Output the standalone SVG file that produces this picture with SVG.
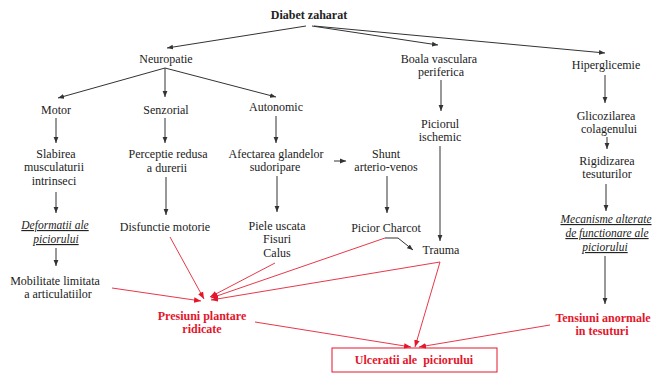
<svg xmlns="http://www.w3.org/2000/svg" width="659" height="378" viewBox="0 0 659 378" font-family="'Liberation Serif', 'Times New Roman', serif">
  <style>
    text { font-family: 'Liberation Serif', 'Times New Roman', serif; font-size: 12px; fill: #222; text-anchor: middle; }
    .title { font-weight: bold; }
    .ital { font-style: italic; text-decoration: underline; font-size: 11.5px; }
    .red { fill: #e3162c; font-weight: bold; }
    .edge { stroke: #333; stroke-width: 1; fill: none; marker-end: url(#arrow); }
    .redge { stroke: #e8384a; stroke-width: 1; fill: none; marker-end: url(#rarrow); }
    .box { fill: none; stroke: #e3162c; stroke-width: 1; }
  </style>
  <defs>
    <marker id="arrow" viewBox="0 0 10 10" refX="10" refY="5" markerWidth="6" markerHeight="6" orient="auto" markerUnits="userSpaceOnUse">
      <path d="M0,1 L10,5 L0,9 z" fill="#333"/>
    </marker>
    <marker id="rarrow" viewBox="0 0 10 10" refX="10" refY="5" markerWidth="7" markerHeight="7" orient="auto" markerUnits="userSpaceOnUse">
      <path d="M0,1 L10,5 L0,9 z" fill="#e3162c"/>
    </marker>
  </defs>

  <rect width="659" height="378" fill="#fff"/>

  <!-- connectors -->
  <g id="connectors">
    <line class="edge" x1="306" y1="26" x2="167" y2="48"/>
    <line class="edge" x1="312" y1="26" x2="438" y2="45"/>
    <line class="edge" x1="314" y1="26" x2="605" y2="53"/>

    <line class="edge" x1="165" y1="68" x2="58" y2="98"/>
    <line class="edge" x1="165" y1="68" x2="165" y2="97"/>
    <line class="edge" x1="165" y1="68" x2="276" y2="97"/>

    <line class="edge" x1="56" y1="118" x2="56" y2="143"/>
    <line class="edge" x1="56" y1="192" x2="56" y2="213"/>
    <line class="edge" x1="56" y1="248" x2="56" y2="266"/>

    <line class="edge" x1="165" y1="118" x2="165" y2="143"/>
    <line class="edge" x1="166" y1="177" x2="166" y2="215"/>

    <line class="edge" x1="276" y1="116" x2="276" y2="143"/>
    <line class="edge" x1="277" y1="176" x2="277" y2="212"/>
    <line class="edge" x1="334" y1="161" x2="346" y2="161"/>

    <line class="edge" x1="387" y1="176" x2="387" y2="213"/>
    <polyline class="edge" points="385,238 398,238 413,250"/>

    <line class="edge" x1="441" y1="80" x2="441" y2="111"/>
    <line class="edge" x1="440" y1="146" x2="440" y2="241"/>

    <line class="edge" x1="605" y1="75" x2="605" y2="103"/>
    <line class="edge" x1="607" y1="137" x2="607" y2="149"/>
    <line class="edge" x1="606" y1="184" x2="606" y2="211"/>
    <line class="edge" x1="605" y1="256" x2="605" y2="304"/>

    <!-- red: toward plantar pressure -->
    <line class="redge" x1="112" y1="288" x2="201" y2="301"/>
    <line class="redge" x1="170" y1="237" x2="204" y2="299"/>
    <line class="redge" x1="275" y1="263" x2="210" y2="297"/>
    <line class="redge" x1="385" y1="238" x2="211" y2="298"/>
    <line class="redge" x1="440" y1="262" x2="211" y2="300"/>

    <!-- red: toward ulceration -->
    <line class="redge" x1="255" y1="322" x2="411" y2="347"/>
    <line class="redge" x1="440" y1="262" x2="415" y2="347"/>
    <line class="redge" x1="550" y1="325" x2="419" y2="347"/>
  </g>

  <g id="diabet"><text class="title" x="309" y="19">Diabet zaharat</text></g>
  <g id="neuropatie"><text x="166" y="63">Neuropatie</text></g>
  <g id="boala"><text x="439" y="63">Boala vasculara</text><text x="441" y="76">periferica</text></g>
  <g id="hiperglicemie"><text x="606" y="69">Hiperglicemie</text></g>

  <g id="motor"><text x="56" y="114">Motor</text></g>
  <g id="senzorial"><text x="166" y="114">Senzorial</text></g>
  <g id="autonomic"><text x="276" y="111">Autonomic</text></g>

  <g id="slabirea"><text x="56" y="158">Slabirea</text><text x="54" y="171">musculaturii</text><text x="54" y="185">intrinseci</text></g>
  <g id="perceptie"><text x="168" y="158">Perceptie redusa</text><text x="167" y="172">a durerii</text></g>
  <g id="afectarea"><text x="276" y="158">Afectarea glandelor</text><text x="275" y="171">sudoripare</text></g>
  <g id="shunt"><text x="386" y="158">Shunt</text><text x="386" y="171">arterio-venos</text></g>
  <g id="ischemic"><text x="440" y="128">Piciorul</text><text x="440" y="141">ischemic</text></g>
  <g id="glicozilarea"><text x="606" y="120">Glicozilarea</text><text x="609" y="133">colagenului</text></g>
  <g id="rigidizarea"><text x="607" y="165">Rigidizarea</text><text x="607" y="178">tesuturilor</text></g>

  <g id="deformatii"><text class="ital" x="55" y="229">Deformatii ale</text><text class="ital" x="56" y="243">piciorului</text></g>
  <g id="disfunctie"><text x="165" y="231">Disfunctie motorie</text></g>
  <g id="piele"><text x="277" y="230">Piele uscata</text><text x="277" y="243">Fisuri</text><text x="277" y="257">Calus</text></g>
  <g id="charcot"><text x="386" y="232">Picior Charcot</text></g>
  <g id="trauma"><text x="441" y="254">Trauma</text></g>
  <g id="mecanisme"><text class="ital" x="606" y="223">Mecanisme alterate</text><text class="ital" x="607" y="237">de functionare ale</text><text class="ital" x="605" y="251">piciorului</text></g>

  <g id="mobilitate"><text x="55" y="285">Mobilitate limitata</text><text x="58" y="298">a articulatiilor</text></g>
  <g id="presiuni"><text class="red" x="202" y="320">Presiuni plantare</text><text class="red" x="202" y="333">ridicate</text></g>
  <g id="tensiuni"><text class="red" x="603" y="322">Tensiuni anormale</text><text class="red" x="602" y="335">in tesuturi</text></g>
  <g id="ulceratii"><rect class="box" x="332" y="348" width="165" height="24"/><text class="red" x="414" y="364" xml:space="preserve">Ulceratii ale  piciorului</text></g>
</svg>
